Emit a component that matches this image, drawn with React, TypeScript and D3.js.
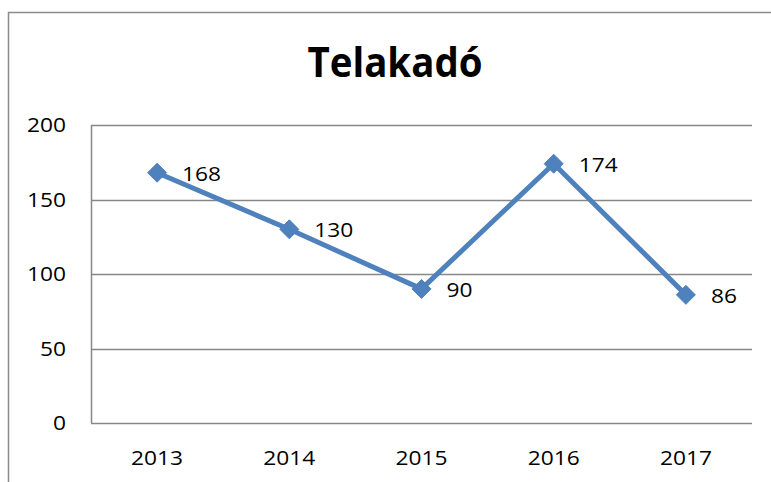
import React from "react";
import * as d3 from "d3";

const years = ["2013", "2014", "2015", "2016", "2017"];
const values = [168, 130, 90, 174, 86];
const yTicks = [0, 50, 100, 150, 200];
const title = "Telakadó";

const W = 771;
const H = 482;
const plot = { left: 91, right: 752, top: 125, bottom: 423 };
const blue = "#4F81BD";
const grid = "#878787";
const font = "'Open Sans', 'Liberation Sans', sans-serif";
const charW = 13;

function Label(props: { x: number; y: number; anchor?: string; text: string }) {
  const s = props.text;
  return (
    <text
      x={props.x}
      y={props.y}
      textAnchor={props.anchor || "start"}
      fontFamily={font}
      fontSize={20}
      fill="#000"
      textLength={s.length * charW}
      lengthAdjust="spacingAndGlyphs"
    >
      {s}
    </text>
  );
}

export default function App() {
  const x = d3.scaleBand<string>().domain(years).range([plot.left, plot.right]);
  const y = d3.scaleLinear().domain([0, 200]).range([plot.bottom, plot.top]);
  const cx = (d: string) => (x(d) as number) + x.bandwidth() / 2;
  const pts = years.map((d, i) => [cx(d), y(values[i])] as [number, number]);
  const line = d3.line()(pts) as string;
  const m = 9.5;
  const diamond = `M0,${-m}L${m},0L0,${m}L${-m},0Z`;

  return (
    <svg
      width={W}
      height={H}
      style={{ position: "absolute", left: 0, top: 0, background: "#fff" }}
    >
      <rect x={0} y={0} width={W} height={H} fill="#fff" />
      <rect x={8.5} y={12.5} width={900} height={600} fill="none" stroke="#8c8c8c" strokeWidth={1.5} />
      <text
        x={395}
        y={77}
        textAnchor="middle"
        fontFamily={font}
        fontWeight="bold"
        fontSize={42}
        fill="#000"
        textLength={175}
        lengthAdjust="spacingAndGlyphs"
      >
        {title}
      </text>
      {yTicks.map((t) => (
        <g key={t}>
          <line
            x1={plot.left}
            x2={plot.right}
            y1={Math.round(y(t)) + 0.5}
            y2={Math.round(y(t)) + 0.5}
            stroke={grid}
            strokeWidth={1.5}
          />
          <Label x={66} y={y(t) + 7} anchor="end" text={String(t)} />
        </g>
      ))}
      <line x1={plot.left + 0.5} x2={plot.left + 0.5} y1={plot.top} y2={plot.bottom} stroke={grid} strokeWidth={1.5} />
      {years.map((d) => (
        <Label key={d} x={cx(d)} y={465} anchor="middle" text={d} />
      ))}
      <path d={line} fill="none" stroke={blue} strokeWidth={5} strokeLinejoin="round" />
      {pts.map(([px, py], i) => (
        <g key={i}>
          <path d={diamond} transform={`translate(${px},${py})`} fill={blue} stroke={blue} strokeWidth={1} />
          <Label x={px + 25} y={py + 8} text={String(values[i])} />
        </g>
      ))}
    </svg>
  );
}
